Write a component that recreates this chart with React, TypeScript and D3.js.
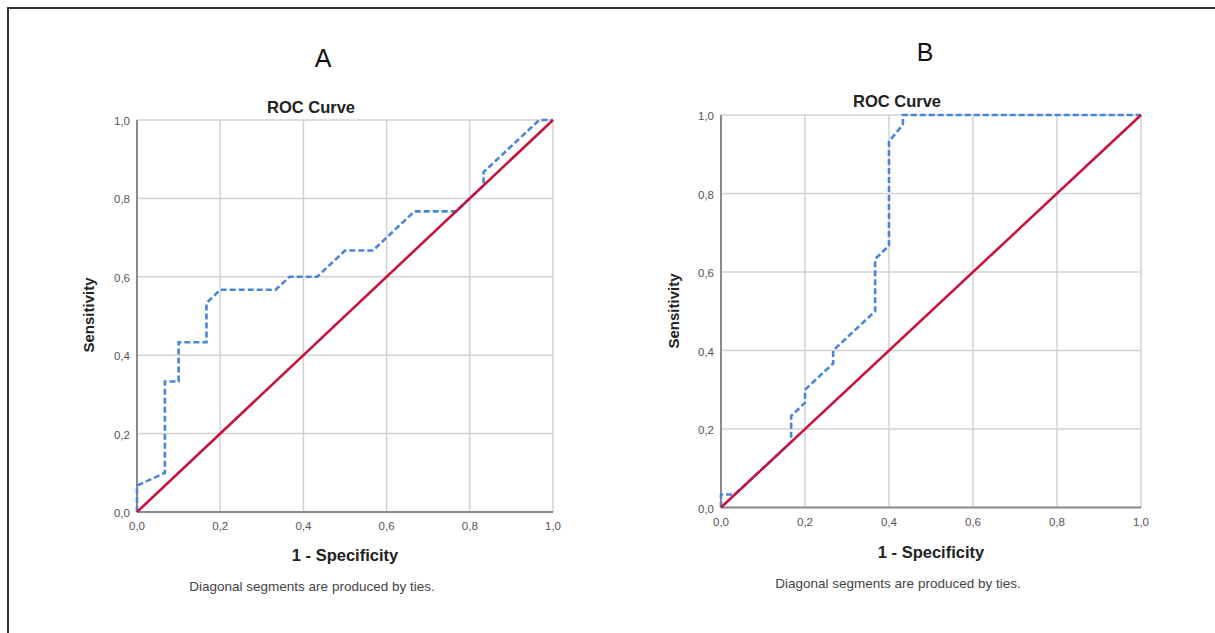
import * as d3 from "d3";

// ROC curve A
const fprA = [0, 0, 0.067, 0.067, 0.1, 0.1, 0.167, 0.167, 0.2, 0.333, 0.367, 0.433, 0.5, 0.567, 0.667, 0.767, 0.833, 0.833, 0.967, 1];
const tprA = [0, 0.067, 0.1, 0.333, 0.333, 0.433, 0.433, 0.533, 0.567, 0.567, 0.6, 0.6, 0.667, 0.667, 0.767, 0.767, 0.833, 0.867, 1, 1];

// ROC curve B
const fprB = [0, 0, 0.033, 0.167, 0.167, 0.2, 0.2, 0.267, 0.267, 0.367, 0.367, 0.4, 0.4, 0.433, 0.433, 1];
const tprB = [0, 0.033, 0.033, 0.167, 0.233, 0.267, 0.3, 0.367, 0.4, 0.5, 0.633, 0.667, 0.933, 0.975, 1, 1];

const tickValues = [0, 0.2, 0.4, 0.6, 0.8, 1.0];
const panelLetters = ["A", "B"];

const fmt = d3.formatLocale({ decimal: ",", thousands: ".", grouping: [3], currency: ["", ""] }).format(".1f");
const font = "'Liberation Sans', Arial, sans-serif";

type Panel = {
  letter: string;
  fpr: number[];
  tpr: number[];
  left: number;
  right: number;
  top: number;
  bottom: number;
  letterX: number;
  letterY: number;
  titleX: number;
  titleY: number;
  ylabX: number;
  ylabY: number;
  xlabY: number;
  noteX: number;
  noteY: number;
};

const panels: Panel[] = [
  {
    letter: panelLetters[0], fpr: fprA, tpr: tprA,
    left: 137, right: 553, top: 120, bottom: 512,
    letterX: 323, letterY: 67, titleX: 311, titleY: 113,
    ylabX: 94, ylabY: 315, xlabY: 561, noteX: 312, noteY: 591,
  },
  {
    letter: panelLetters[1], fpr: fprB, tpr: tprB,
    left: 721, right: 1141, top: 115, bottom: 507.5,
    letterX: 925, letterY: 61, titleX: 897, titleY: 107,
    ylabX: 679, ylabY: 311, xlabY: 558, noteX: 898, noteY: 588,
  },
];

function RocPanel({ p }: { p: Panel }) {
  const x = d3.scaleLinear().domain([0, 1]).range([p.left, p.right]);
  const y = d3.scaleLinear().domain([0, 1]).range([p.bottom, p.top]);
  const pts = p.fpr.map((f, i) => [f, p.tpr[i]] as [number, number]);
  const line = d3.line<[number, number]>().x(d => x(d[0])).y(d => y(d[1]));
  const xlabX = (p.left + p.right) / 2;

  return (
    <g>
      <text x={p.letterX} y={p.letterY} textAnchor="middle" fontSize={25} fontFamily={font} fill="#111">
        {p.letter}
      </text>
      <text x={p.titleX} y={p.titleY} textAnchor="middle" fontSize={16.5} fontWeight="bold" fontFamily={font} fill="#222">
        ROC Curve
      </text>

      {/* grid */}
      {tickValues.map(t => (
        <g key={t}>
          <line x1={x(t)} x2={x(t)} y1={p.top} y2={p.bottom} stroke="#d2d2d2" strokeWidth={1.5} />
          <line x1={p.left} x2={p.right} y1={y(t)} y2={y(t)} stroke="#d2d2d2" strokeWidth={1.5} />
          <text x={p.left - 7} y={y(t) + 5} textAnchor="end" fontSize={11.5} fontFamily={font} fill="#555">
            {fmt(t)}
          </text>
          <text x={x(t)} y={p.bottom + 18} textAnchor="middle" fontSize={11.5} fontFamily={font} fill="#555">
            {fmt(t)}
          </text>
        </g>
      ))}

      {/* axes */}
      <line x1={p.left} x2={p.left} y1={p.top} y2={p.bottom} stroke="#8a8a8a" strokeWidth={2} />
      <line x1={p.left} x2={p.right} y1={p.bottom} y2={p.bottom} stroke="#8a8a8a" strokeWidth={2} />

      {/* ROC curve */}
      <path d={line(pts) ?? ""} fill="none" stroke="#4a86d6" strokeWidth={2.6} strokeDasharray="6 3" />

      {/* reference line */}
      <line x1={x(0)} y1={y(0)} x2={x(1)} y2={y(1)} stroke="#c4153f" strokeWidth={2.6} />

      <text
        transform={`translate(${p.ylabX},${p.ylabY}) rotate(-90)`}
        textAnchor="middle"
        fontSize={15}
        fontWeight="bold"
        fontFamily={font}
        fill="#222"
      >
        Sensitivity
      </text>
      <text x={xlabX} y={p.xlabY} textAnchor="middle" fontSize={16.5} fontWeight="bold" fontFamily={font} fill="#222">
        1 - Specificity
      </text>
      <text x={p.noteX} y={p.noteY} textAnchor="middle" fontSize={13.5} fontFamily={font} fill="#444">
        Diagonal segments are produced by ties.
      </text>
    </g>
  );
}

export default function App() {
  return (
    <svg
      width={1215}
      height={633}
      style={{ position: "absolute", left: 0, top: 0, background: "#fff" }}
    >
      <rect x={8} y={8} width={1240} height={660} fill="none" stroke="#333" strokeWidth={2} />
      {panels.map(p => (
        <RocPanel key={p.letter} p={p} />
      ))}
    </svg>
  );
}
